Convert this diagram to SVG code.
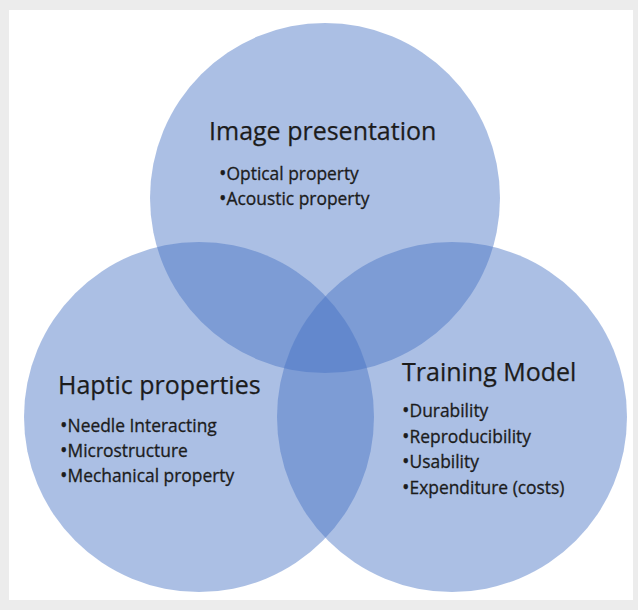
<svg xmlns="http://www.w3.org/2000/svg" width="638" height="610" viewBox="0 0 638 610">
  <style>
    .set { fill: #4472c4; fill-opacity: 0.45; }
    .title { font-family: "Open Sans", "Noto Sans", sans-serif; font-size: 25px; fill: #1c1c1c; stroke: #1c1c1c; stroke-width: 0.25px; }
    .item { font-family: "Open Sans", "Noto Sans", sans-serif; font-size: 17.4px; fill: #1c1c1c; stroke: #1c1c1c; stroke-width: 0.3px; }
    .b { font-size: 20px; }
  </style>
  <rect x="0" y="0" width="638" height="610" fill="#ececec"/>
  <rect x="9" y="10" width="624" height="590" fill="#ffffff"/>
  <g id="connectors"/>
  <g id="image-presentation">
    <circle class="set" cx="325" cy="198" r="175"/>
    <text class="title" x="209" y="140">Image presentation</text>
    <text class="item" x="219" y="179.5"><tspan class="b">•</tspan>Optical property</text>
    <text class="item" x="219" y="204.5"><tspan class="b">•</tspan>Acoustic property</text>
  </g>
  <g id="haptic-properties">
    <circle class="set" cx="199" cy="417" r="175"/>
    <text class="title" x="58" y="393.5">Haptic properties</text>
    <text class="item" x="60" y="431.5"><tspan class="b">•</tspan>Needle Interacting</text>
    <text class="item" x="60" y="456.5"><tspan class="b">•</tspan>Microstructure</text>
    <text class="item" x="60" y="481.5"><tspan class="b">•</tspan>Mechanical property</text>
  </g>
  <g id="training-model">
    <circle class="set" cx="452" cy="417" r="175"/>
    <text class="title" x="402" y="380.5">Training Model</text>
    <text class="item" x="402" y="416.8"><tspan class="b">•</tspan>Durability</text>
    <text class="item" x="402" y="442.5"><tspan class="b">•</tspan>Reproducibility</text>
    <text class="item" x="402" y="468.3"><tspan class="b">•</tspan>Usability</text>
    <text class="item" x="402" y="494"><tspan class="b">•</tspan>Expenditure (costs)</text>
  </g>
</svg>
